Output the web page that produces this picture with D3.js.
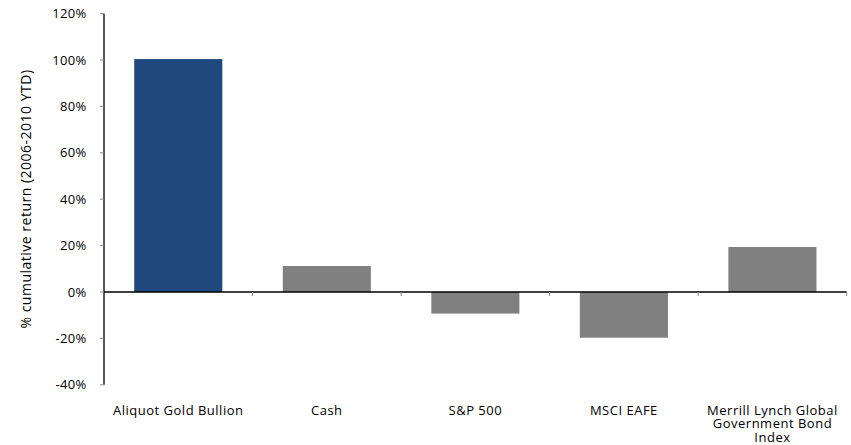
<!DOCTYPE html>
<html><head><meta charset="utf-8">
<script src="https://cdn.jsdelivr.net/npm/d3@7"></script>
<style>body{margin:0;background:#fff}svg{display:block}text{font-family:"Open Sans",sans-serif;fill:#000}</style>
</head><body><div id="chart"></div>
<script>
const categories = ["Aliquot Gold Bullion","Cash","S&P 500","MSCI EAFE","Merrill Lynch Global Government Bond Index"];
const values = [100.4, 11.2, -9.3, -19.7, 19.4];
const colors = ["#1f497d","#808080","#808080","#808080","#808080"];
const yTicks = [-40,-20,0,20,40,60,80,100,120];
const yTitle = "% cumulative return (2006-2010 YTD)";

(function(){
const W=851,H=445;
const svg=d3.select("#chart").append("svg").attr("width",W).attr("height",H);
const mL=104,mR=846.7,mT=13.6,mB=384.8;
const x=d3.scaleBand().domain(categories).range([mL,mR]).paddingInner(0.407).paddingOuter(0.2035);
const xb=d3.scaleBand().domain(categories).range([mL,mR]);
const y=d3.scaleLinear().domain([-40,120]).range([mB,mT]);

// y axis
svg.append("line").attr("x1",mL).attr("x2",mL).attr("y1",mT).attr("y2",mB).attr("stroke","#000").attr("stroke-width",1.3);
svg.selectAll(".yt").data(yTicks).enter().append("line").attr("x1",mL-4).attr("x2",mL).attr("y1",d=>y(d)).attr("y2",d=>y(d)).attr("stroke","#888").attr("stroke-width",1);
svg.selectAll(".yl").data(yTicks).enter().append("text").attr("x",86.5).attr("y",d=>y(d)).attr("dy","0.36em").attr("text-anchor","end").attr("font-size",13).attr("letter-spacing",0.3).text(d=>d+"%");

// bars
svg.selectAll(".bar").data(categories).enter().append("rect")
 .attr("x",d=>x(d)).attr("width",x.bandwidth())
 .attr("y",(d,i)=>y(Math.max(0,values[i]))).attr("height",(d,i)=>Math.abs(y(values[i])-y(0)))
 .attr("fill",(d,i)=>colors[i]);

// x axis at zero
svg.append("line").attr("x1",mL).attr("x2",mR).attr("y1",y(0)).attr("y2",y(0)).attr("stroke","#000").attr("stroke-width",1.3);
svg.selectAll(".xt").data(categories).enter().append("line")
 .attr("x1",d=>xb(d)+xb.bandwidth()).attr("x2",d=>xb(d)+xb.bandwidth())
 .attr("y1",y(0)).attr("y2",y(0)+4).attr("stroke","#888");

// category labels
const wrapLines={"Merrill Lynch Global Government Bond Index":["Merrill Lynch Global","Government Bond","Index"]};
categories.forEach(c=>{
  const lines=wrapLines[c]||[c];
  const cx=xb(c)+xb.bandwidth()/2;
  const t=svg.append("text").attr("x",cx).attr("y",415).attr("text-anchor","middle").attr("font-size",13).attr("letter-spacing",0.5);
  lines.forEach((l,i)=>t.append("tspan").attr("x",cx).attr("dy",i?13.4:0).text(l));
});

// y title
svg.append("text").attr("transform","translate(31,199) rotate(-90)").attr("text-anchor","middle").attr("font-size",14).attr("letter-spacing",0.5).text(yTitle);
})();
</script></body></html>
